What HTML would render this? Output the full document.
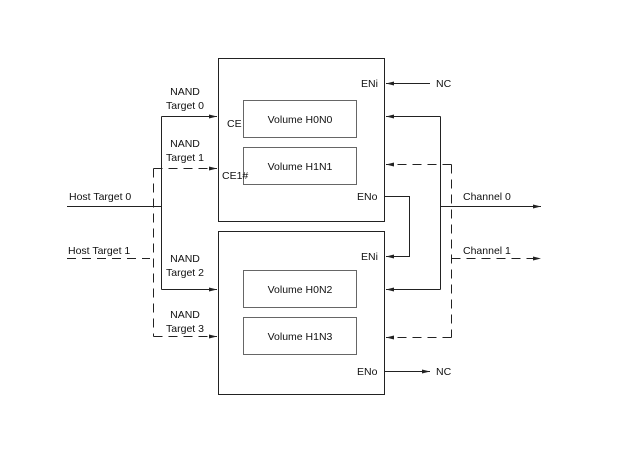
<!DOCTYPE html>
<html><head><style>
body{margin:0;background:#fff}
svg text{font-family:"Liberation Sans",sans-serif;font-size:10.5px;fill:#111}
</style></head><body>
<svg width="635" height="459" viewBox="0 0 635 459" xmlns="http://www.w3.org/2000/svg">
<defs><marker id="a" markerWidth="8" markerHeight="6" refX="8" refY="3" orient="auto" markerUnits="userSpaceOnUse"><path d="M0,1 L8,3 L0,5 z" fill="#222"/></marker></defs>
<g fill="none" stroke="#222" stroke-width="1">
<rect x="218.5" y="58.5" width="166" height="163"/>
<rect x="218.5" y="231.5" width="166" height="163"/>
<rect x="243.5" y="100.5" width="113" height="37" stroke="#666"/>
<rect x="243.5" y="147.5" width="113" height="37" stroke="#666"/>
<rect x="243.5" y="270.5" width="113" height="37" stroke="#666"/>
<rect x="243.5" y="317.5" width="113" height="37" stroke="#666"/>
<path d="M67,206.5 H161.5"/>
<path d="M161.5,116.5 V289.5"/>
<path d="M161.5,116.5 H217" marker-end="url(#a)"/>
<path d="M161.5,289.5 H217" marker-end="url(#a)"/>
<g stroke-dasharray="9,6">
<path d="M67,258.5 H150"/>
<path d="M153.5,168.5 V336.5"/>
<path d="M153.5,168.5 H217" marker-end="url(#a)"/>
<path d="M153.5,336.5 H217" marker-end="url(#a)"/>
<path d="M451.5,164.5 V337.5"/>
<path d="M451.5,164.5 H386" marker-end="url(#a)"/>
<path d="M451.5,337.5 H386" marker-end="url(#a)"/>
<path d="M451.5,258.5 H541" marker-end="url(#a)"/>
</g>
<path d="M430,83.5 H386" marker-end="url(#a)"/>
<path d="M440.5,116.5 V289.5"/>
<path d="M440.5,116.5 H386" marker-end="url(#a)"/>
<path d="M440.5,289.5 H386" marker-end="url(#a)"/>
<path d="M440.5,206.5 H541" marker-end="url(#a)"/>
<path d="M385,196.5 H409.5 V256.5 H386" marker-end="url(#a)"/>
<path d="M385,371.5 H430" marker-end="url(#a)"/>
</g>
<g text-anchor="middle">
<text x="185" y="95">NAND</text><text x="185" y="109">Target 0</text>
<text x="185" y="147">NAND</text><text x="185" y="161">Target 1</text>
<text x="185" y="262">NAND</text><text x="185" y="276">Target 2</text>
<text x="185" y="318">NAND</text><text x="185" y="332">Target 3</text>
</g>
<text x="69" y="200">Host Target 0</text>
<text x="68" y="254">Host Target 1</text>
<text x="227" y="127">CE</text>
<text x="222" y="179">CE1#</text>
<text x="300" y="123" text-anchor="middle">Volume H0N0</text>
<text x="300" y="170" text-anchor="middle">Volume H1N1</text>
<text x="300" y="293" text-anchor="middle">Volume H0N2</text>
<text x="300" y="340" text-anchor="middle">Volume H1N3</text>
<text x="361" y="87">ENi</text>
<text x="357" y="200">ENo</text>
<text x="361" y="260">ENi</text>
<text x="357" y="375">ENo</text>
<text x="436" y="87">NC</text>
<text x="436" y="375">NC</text>
<text x="463" y="200">Channel 0</text>
<text x="463" y="254">Channel 1</text>
</svg>
</body></html>
